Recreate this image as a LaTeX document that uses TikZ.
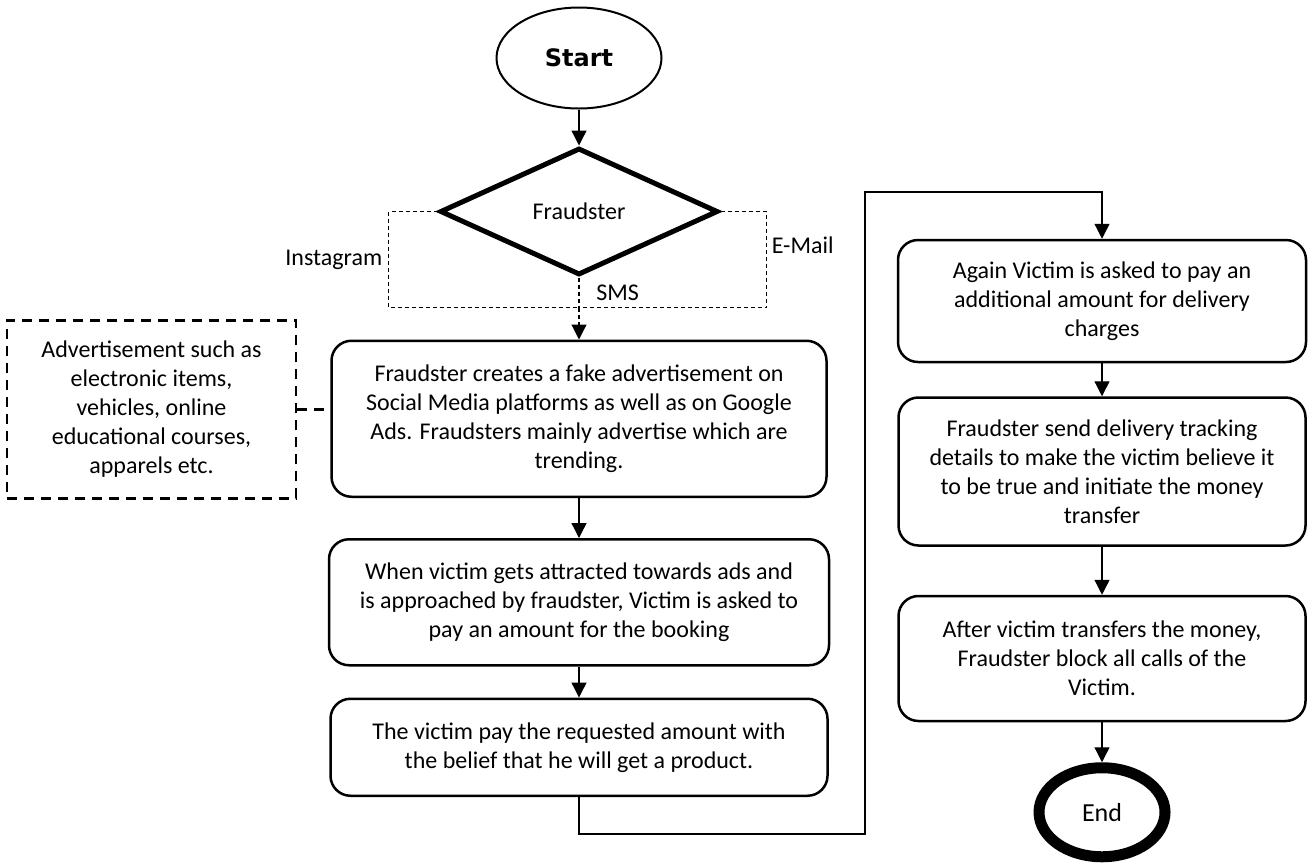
\documentclass[tikz,border=0pt]{standalone}
\usepackage{fontspec}
\setmainfont{Carlito}
\newfontfamily\startfont{DejaVu Sans}
\usetikzlibrary{positioning,arrows.meta,shapes.geometric}

\begin{document}
\begin{tikzpicture}[x=0.5pt, y=-0.5pt, font=\fontsize{12}{14.5}\selectfont,
      >={Triangle[length=7.5pt,width=7.5pt]},
      box/.style={draw, rounded corners=10pt, line width=1.25pt, align=center, inner sep=2pt},
      link/.style={line width=0.65pt},
      via/.style={dash pattern=on 2pt off 1.5pt, line width=0.6pt},
      note/.style={dash pattern=on 5pt off 3.5pt, line width=1.25pt}]
    \useasboundingbox (0,0) rectangle (1315,863);
    \node[ellipse, draw, line width=1pt, minimum width=82.5pt, minimum height=50.5pt,
          font=\startfont\bfseries\fontsize{12}{14}\selectfont] (start) at (579,58) {Start};
    \node[diamond, draw, line width=2.5pt, minimum width=139pt, minimum height=63.5pt,
          inner sep=0pt, below=18pt of start] (fr) {Fraudster};
    \node[box, minimum width=247.5pt, minimum height=78pt, below=31pt of fr] (ads)
      {Fraudster creates a fake advertisement on\\ Social Media platforms as well as on Google\\
       Ads. Fraudsters mainly advertise which are\\ trending.};
    \node[box, note, sharp corners, minimum width=144.5pt, minimum height=89pt,
          left=16.5pt of ads, yshift=4.75pt] (adv)
      {Advertisement such as\\ electronic items,\\ vehicles, online\\ educational courses,\\ apparels etc.};
    \node[box, minimum width=250pt, minimum height=63pt, below=20pt of ads] (book)
      {When victim gets attracted towards ads and\\ is approached by fraudster, Victim is asked to\\
       pay an amount for the booking};
    \node[box, minimum width=248.5pt, minimum height=48.5pt, below=15.5pt of book] (paid)
      {The victim pay the requested amount with\\ the belief that he will get a product.};
    \node[box, minimum width=204pt, minimum height=61pt] (extra) at (1102,301)
      {Again Victim is asked to pay an\\ additional amount for delivery\\ charges};
    \node[box, minimum width=203.5pt, minimum height=74pt, below=16.5pt of extra] (track)
      {Fraudster send delivery tracking\\ details to make the victim believe it\\
       to be true and initiate the money\\ transfer};
    \node[box, minimum width=203.5pt, minimum height=62.5pt, below=24pt of track] (block)
      {After victim transfers the money,\\ Fraudster block all calls of the\\ Victim.};
    \node[ellipse, draw, line width=5.5pt, minimum width=63pt, minimum height=44.5pt,
          below=20pt of block, font=\fontsize{13}{15}\selectfont] (fin) {End};
    \coordinate[below=15pt of fr] (split);
    \coordinate (low) at (865,834);
    \coordinate (high) at (865,192);
    \draw[link, ->] (start) -- (fr);
    \draw[via] (fr.west) -- ++(-49,0) |- node[pos=0.25, left=-0.5pt] {Instagram} (split);
    \draw[via] (fr.east) -- ++(46,0) |- node[pos=0.175, right=-1pt] {E-Mail} (split);
    \draw[via] (fr.south) -- node[right=5pt] {SMS} (split);
    \draw[via, ->] (split) -- (ads);
    \draw[note] (adv.east) -- (adv.east -| ads.west);
    \draw[link, ->] (ads) -- (book);
    \draw[link, ->] (book) -- (paid);
    \draw[link, ->] (paid.south) |- (low) -- (high) -| (extra.north);
    \draw[link, ->] (extra) -- (track);
    \draw[link, ->] (track) -- (block);
    \draw[link, ->] (block) -- (fin);
\end{tikzpicture}
\end{document}
